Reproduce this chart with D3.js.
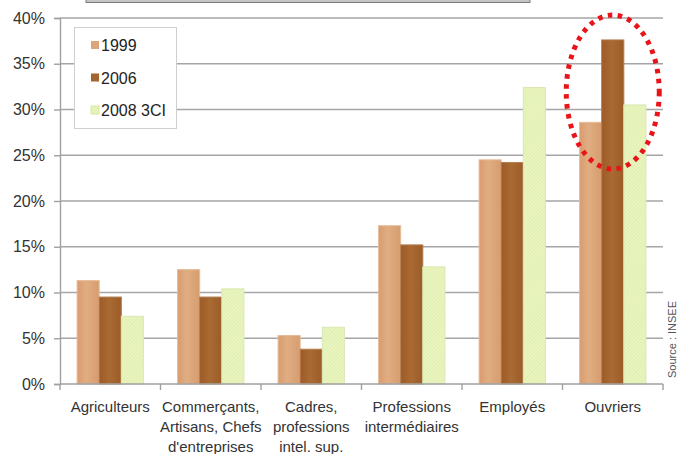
<!DOCTYPE html>
<html>
<head>
<meta charset="utf-8">
<script src="https://cdn.jsdelivr.net/npm/d3@7"></script>
<style>
  html, body { margin: 0; padding: 0; background: #fff; }
  svg { display: block; font-family: "Liberation Sans", Arial, sans-serif; }
</style>
</head>
<body>
<svg id="chart" width="678" height="454"></svg>
<script>
// Socio-professional categories (multi-line labels)
const categories = [
  ["Agriculteurs"],
  ["Commerçants,", "Artisans, Chefs", "d'entreprises"],
  ["Cadres,", "professions", "intel. sup."],
  ["Professions", "intermédiaires"],
  ["Employés"],
  ["Ouvriers"]
];
const seriesNames = ["1999", "2006", "2008 3CI"];
const values1999 = [11.3, 12.5, 5.3, 17.3, 24.5, 28.6];
const values2006 = [9.5, 9.5, 3.8, 15.2, 24.2, 37.6];
const values2008 = [7.4, 10.4, 6.2, 12.8, 32.4, 30.5];
const yTicks = [0, 5, 10, 15, 20, 25, 30, 35, 40];
const sourceText = "Source : INSEE";

const svg = d3.select("#chart");
const margin = { left: 60, right: 15, top: 18, bottom: 70 };
const W = 678, H = 454;
const x0 = d3.scaleBand()
  .domain(d3.range(categories.length))
  .range([margin.left, W - margin.right])
  .paddingInner(0.34).paddingOuter(0.17);
const x1 = d3.scaleBand().domain(d3.range(3)).range([0, x0.bandwidth()]);
const y = d3.scaleLinear().domain([0, 40]).range([H - margin.bottom, margin.top]);

// Patterns / gradients
const defs = svg.append("defs");
const hatch = defs.append("pattern")
  .attr("id", "hatch").attr("patternUnits", "userSpaceOnUse")
  .attr("width", 2.5).attr("height", 2.5)
  .attr("patternTransform", "rotate(45)");
hatch.append("rect").attr("width", 2.5).attr("height", 2.5).attr("fill", "#eaf5bf");
hatch.append("line").attr("x1", 0).attr("y1", 0).attr("x2", 0).attr("y2", 2.5)
  .attr("stroke", "#d6e8a4").attr("stroke-width", 1);

const g1 = defs.append("linearGradient").attr("id", "g1999");
g1.append("stop").attr("offset", "0%").attr("stop-color", "#d99b6e");
g1.append("stop").attr("offset", "40%").attr("stop-color", "#e0ad82");
g1.append("stop").attr("offset", "100%").attr("stop-color", "#d69d6f");
const g2 = defs.append("linearGradient").attr("id", "g2006");
g2.append("stop").attr("offset", "0%").attr("stop-color", "#9e5a26");
g2.append("stop").attr("offset", "45%").attr("stop-color", "#a96a33");
g2.append("stop").attr("offset", "100%").attr("stop-color", "#9c5c28");

const fills = ["url(#g1999)", "url(#g2006)", "url(#hatch)"];
const strokes = ["#e6bc98", "#b07a4a", "#d9e8b4"];
const legendFills = ["#dca57a", "#a3642f", "#d8ec9a"];

// Top banner remnant
svg.append("rect").attr("x", 86).attr("y", -6).attr("width", 444).attr("height", 8.5)
  .attr("fill", "#c4c4c4").attr("stroke", "#7a7a7a").attr("stroke-width", 1);

// Gridlines
svg.append("g").selectAll("line").data(yTicks.filter(d => d > 0)).join("line")
  .attr("x1", margin.left).attr("x2", W - margin.right)
  .attr("y1", d => y(d)).attr("y2", d => y(d))
  .attr("stroke", "#a6a6a6").attr("stroke-width", 1.4);

// Y axis
const yAxis = svg.append("g").attr("transform", `translate(${margin.left},0)`)
  .call(d3.axisLeft(y).tickValues(yTicks).tickFormat(d => d + "%").tickSize(6).tickPadding(9));
yAxis.select(".domain").attr("stroke", "#a0a0a0").attr("stroke-width", 1.4);
yAxis.selectAll(".tick line").attr("stroke", "#a0a0a0").attr("stroke-width", 1.4);
yAxis.selectAll(".tick text").attr("font-size", 16).attr("fill", "#333")
  .attr("font-family", "Liberation Sans, Arial, sans-serif");

// Bars
const series = [values1999, values2006, values2008];
const groups = svg.append("g").selectAll("g").data(categories).join("g")
  .attr("transform", (d, i) => `translate(${x0(i)},0)`);
groups.selectAll("rect")
  .data((d, i) => series.map((s, k) => ({ k, v: s[i] })))
  .join("rect")
  .attr("x", d => x1(d.k))
  .attr("width", x1.bandwidth())
  .attr("y", d => y(d.v))
  .attr("height", d => y(0) - y(d.v))
  .attr("fill", d => fills[d.k])
  .attr("stroke", d => strokes[d.k]).attr("stroke-width", 1);

// X axis with category boundary ticks
const boundaries = d3.range(categories.length + 1).map(i => margin.left + i * x0.step());
svg.append("line").attr("x1", margin.left).attr("x2", W - margin.right)
  .attr("y1", y(0)).attr("y2", y(0)).attr("stroke", "#a0a0a0").attr("stroke-width", 1.4);
svg.append("g").selectAll("line").data(boundaries).join("line")
  .attr("x1", d => d).attr("x2", d => d)
  .attr("y1", y(0)).attr("y2", y(0) + 6)
  .attr("stroke", "#a0a0a0").attr("stroke-width", 1.4);

// Category labels
const labels = svg.append("g").selectAll("text").data(categories).join("text")
  .attr("x", (d, i) => x0(i) + x0.bandwidth() / 2)
  .attr("y", 412)
  .attr("text-anchor", "middle").attr("font-size", 15).attr("fill", "#333");
labels.selectAll("tspan").data(d => d).join("tspan")
  .attr("x", function () { return this.parentNode.getAttribute("x"); })
  .attr("dy", (d, j) => j === 0 ? 0 : 20)
  .text(d => d);

// Legend
const legend = svg.append("g");
legend.append("rect").attr("x", 74.5).attr("y", 27.5).attr("width", 102).attr("height", 101)
  .attr("fill", "#fff").attr("stroke", "#cfcfcf").attr("stroke-width", 1);
seriesNames.forEach((name, k) => {
  const cy = 45 + k * 32.5;
  if (k === 2) {
    legend.append("rect").attr("x", 91).attr("y", cy - 4).attr("width", 8).attr("height", 8)
      .attr("fill", "url(#hatch)").attr("stroke", "#d6e99e");
  } else {
    legend.append("rect").attr("x", 91).attr("y", cy - 4).attr("width", 8).attr("height", 8)
      .attr("fill", legendFills[k]);
  }
  legend.append("text").attr("x", 101).attr("y", cy + 6)
    .attr("font-size", 16).attr("fill", "#222").text(name);
});

// Highlight around the Ouvriers group
const ox = x0(5) + x0.bandwidth() / 2;
svg.append("ellipse")
  .attr("cx", ox).attr("cy", 92).attr("rx", 46.5).attr("ry", 77)
  .attr("fill", "none").attr("stroke", "#e8141a").attr("stroke-width", 5)
  .attr("stroke-dasharray", "4.5 5.5");

// Source
svg.append("text")
  .attr("transform", "translate(676,378) rotate(-90)")
  .attr("font-size", 11).attr("fill", "#555").text(sourceText);
</script>
</body>
</html>
